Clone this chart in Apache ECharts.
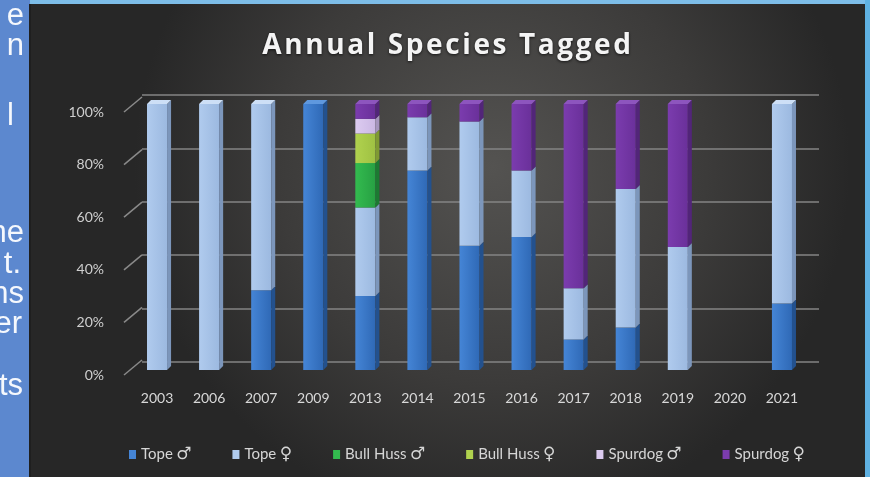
<!DOCTYPE html>
<html>
<head>
<meta charset="utf-8">
<script src="https://cdn.jsdelivr.net/npm/echarts@6/dist/echarts.min.js"></script>
<style>
  html, body { margin: 0; padding: 0; background: #5c88cf; }
  #chart { width: 870px; height: 477px; }
</style>
</head>
<body>
<div id="chart"></div>
<script>
// Share of each species / sex tagged per year (percent of that year's total)
const years = ['2003', '2006', '2007', '2009', '2013', '2014', '2015', '2016', '2017', '2018', '2019', '2020', '2021'];
const topeMale       = [0,   0,   30, 100, 27.8, 75, 46.7, 50, 11.5, 16, 0,    0, 25];
const topeFemale     = [100, 100, 70, 0,   33.3, 20, 46.7, 25, 19.2, 52, 46.2, 0, 75];
const bullHussMale   = [0,   0,   0,  0,   16.7, 0,  0,    0,  0,    0,  0,    0, 0];
const bullHussFemale = [0,   0,   0,  0,   11.1, 0,  0,    0,  0,    0,  0,    0, 0];
const spurdogMale    = [0,   0,   0,  0,   5.5,  0,  0,    0,  0,    0,  0,    0, 0];
const spurdogFemale  = [0,   0,   0,  0,   5.6,  5,  6.6,  25, 69.3, 32, 53.8, 0, 0];
const seriesNames = ['Tope ♂', 'Tope ♀', 'Bull Huss ♂', 'Bull Huss ♀', 'Spurdog ♂', 'Spurdog ♀'];
const percentTicks = [0, 20, 40, 60, 80, 100];
const chartTitle = 'Annual Species Tagged';

const seriesValues = [topeMale, topeFemale, bullHussMale, bullHussFemale, spurdogMale, spurdogFemale];

// Face colours of the 3D columns: front gradient (left, right), side face, top cap
const faceStyles = [
  { front: ['#4585d6', '#2f69b6'], side: '#23518e', cap: '#5f98de' },
  { front: ['#b0cbee', '#9cb9e0'], side: '#7c96bb', cap: '#cddff6' },
  { front: ['#33bb4f', '#27a043'], side: '#1c7a32', cap: '#52c86a' },
  { front: ['#b0d24e', '#9fc143'], side: '#7f9a33', cap: '#c4df73' },
  { front: ['#dccbf0', '#cbb8e4'], side: '#a595bd', cap: '#e8dcf6' },
  { front: ['#7b3cae', '#6a309a'], side: '#522579', cap: '#8d55be' }
];

const DX = 4, DY = 4; // depth offset of the columns

// Build stacked [category, base, top, isTopmost] rows for every series
const stackRows = seriesValues.map(() => []);
years.forEach((y, i) => {
  let base = 0;
  seriesValues.forEach((vals, s) => {
    const v = vals[i];
    const laterSum = seriesValues.slice(s + 1).reduce((acc, arr) => acc + arr[i], 0);
    stackRows[s].push([i, base, base + v, laterSum > 0 ? 0 : 1]);
    base += v;
  });
});

function columnRenderer(style) {
  return function (params, api) {
    const lo = api.value(1), hi = api.value(2);
    if (!(hi > lo)) return null;
    const cat = api.value(0);
    const a = api.coord([cat, lo]);
    const b = api.coord([cat, hi]);
    const w = api.size([1, 0])[0] * 0.385;
    const x0 = a[0] - w / 2, x1 = x0 + w;
    const yLo = a[1], yHi = b[1];
    const children = [
      {
        type: 'rect',
        shape: { x: x0, y: yHi, width: w, height: yLo - yHi },
        style: {
          fill: new echarts.graphic.LinearGradient(0, 0, 1, 0, [
            { offset: 0, color: style.front[0] },
            { offset: 1, color: style.front[1] }
          ])
        }
      },
      {
        type: 'polygon',
        shape: { points: [[x1, yLo], [x1 + DX, yLo - DY], [x1 + DX, yHi - DY], [x1, yHi]] },
        style: { fill: style.side }
      }
    ];
    if (api.value(3)) {
      children.push({
        type: 'polygon',
        shape: { points: [[x0, yHi], [x1, yHi], [x1 + DX, yHi - DY], [x0 + DX, yHi - DY]] },
        style: { fill: style.cap }
      });
    }
    return { type: 'group', children };
  };
}

const chart = echarts.init(document.getElementById('chart'), null, { renderer: 'canvas' });

const columnSeries = seriesNames.map((name, s) => ({
  name,
  type: 'custom',
  xAxisIndex: 2,
  yAxisIndex: 2,
  color: faceStyles[s].front[0],
  renderItem: columnRenderer(faceStyles[s]),
  encode: { x: 0, y: [1, 2] },
  data: stackRows[s],
  z: 3
}));

// Slanted edge ticks of the floor/side wall, from the front labels back to the wall
const edgeTickSeries = {
  type: 'custom',
  xAxisIndex: 1,
  yAxisIndex: 1,
  silent: true,
  renderItem: function (params, api) {
    const p = api.coord([0, api.value(1)]);
    return {
      type: 'line',
      shape: { x1: p[0], y1: p[1], x2: p[0] + 18, y2: p[1] - 15 },
      style: { stroke: '#8a8a8a', lineWidth: 1.5 }
    };
  },
  data: percentTicks.map(v => [0, v]),
  z: 2
};

// Tracked title: every glyph is its own rich token with a little side padding
const trackedTitle = chartTitle.split('').map(ch => '{c|' + ch + '}').join('');

const stripText = { fill: '#f5f8fd', font: '31px "Liberation Sans", Arial, sans-serif', textVerticalAlign: 'middle', textAlign: 'right' };

chart.setOption({
  backgroundColor: '#5c88cf',
  animation: false,
  title: {
    text: trackedTitle,
    left: 256,
    top: 27,
    textStyle: {
      rich: {
        c: {
          color: '#f4f4f4',
          fontFamily: '"Open Sans", sans-serif',
          fontWeight: 'bold',
          fontSize: 28,
          padding: [0, 1.3, 0, 1.3],
          textShadowColor: 'rgba(0,0,0,0.7)',
          textShadowBlur: 3,
          textShadowOffsetY: 1
        }
      }
    }
  },
  legend: {
    data: seriesNames,
    left: 124,
    top: 441,
    itemGap: 41,
    itemWidth: 7,
    itemHeight: 9,
    icon: 'rect',
    formatter: function (name) {
      const i = name.lastIndexOf(' ');
      return '{n|' + name.slice(0, i) + '} {s|' + name.slice(i + 1) + '}';
    },
    textStyle: {
      color: '#d6d6d6',
      rich: {
        n: { fontFamily: 'Lato, sans-serif', fontSize: 15, color: '#d6d6d6' },
        s: { fontFamily: '"DejaVu Sans", sans-serif', fontSize: 17, color: '#d6d6d6' }
      }
    }
  },
  graphic: [
    {
      type: 'rect', z: -100,
      shape: { x: 30, y: 0, width: 840, height: 477 },
      style: {
        fill: new echarts.graphic.RadialGradient(0.55, 0.35, 0.75, [
          { offset: 0, color: '#545351' },
          { offset: 0.6, color: '#3c3b3a' },
          { offset: 1, color: '#272727' }
        ])
      }
    },
    { type: 'rect', z: -99, shape: { x: 30, y: 0, width: 840, height: 4 }, style: { fill: '#7dbde8' } },
    { type: 'rect', z: -99, shape: { x: 865, y: 0, width: 5, height: 477 }, style: { fill: '#5fb1e2' } },
    { type: 'rect', z: -99, shape: { x: 29, y: 4, width: 2, height: 473 }, style: { fill: '#1f1f1f' } },
    { type: 'text', z: -98, x: 24, y: 16, style: Object.assign({ text: 'e' }, stripText) },
    { type: 'text', z: -98, x: 24, y: 46, style: Object.assign({ text: 'n' }, stripText) },
    { type: 'text', z: -98, x: 14, y: 116, style: Object.assign({ text: 'l' }, stripText) },
    { type: 'text', z: -98, x: 24, y: 233, style: Object.assign({ text: 'he' }, stripText) },
    { type: 'text', z: -98, x: 21, y: 264, style: Object.assign({ text: 't.' }, stripText) },
    { type: 'text', z: -98, x: 24, y: 294, style: Object.assign({ text: 'ns' }, stripText) },
    { type: 'text', z: -98, x: 22, y: 324, style: Object.assign({ text: 'er' }, stripText) },
    { type: 'text', z: -98, x: 23, y: 386, style: Object.assign({ text: 'ts' }, stripText) }
  ],
  grid: [
    // back wall with the gridlines
    { left: 142, right: 51, top: 95, bottom: 115 },
    // front edge carrying the percent labels
    { left: 124, right: 51, top: 112, bottom: 102 },
    // columns
    { left: 131, right: 62, top: 104, bottom: 107 }
  ],
  xAxis: [
    { gridIndex: 0, type: 'value', min: 0, max: 1, show: false },
    { gridIndex: 1, type: 'value', min: 0, max: 1, show: false },
    {
      gridIndex: 2, type: 'category', data: years,
      axisLine: { show: false }, axisTick: { show: false },
      axisLabel: { color: '#d8d8d8', fontFamily: 'Lato, sans-serif', fontSize: 14, margin: 21 }
    }
  ],
  yAxis: [
    {
      gridIndex: 0, type: 'value', min: 0, max: 100, interval: 20,
      axisLine: { show: false }, axisTick: { show: false }, axisLabel: { show: false },
      splitLine: { lineStyle: { color: '#858585', width: 1.5 } }
    },
    {
      gridIndex: 1, type: 'value', min: 0, max: 100, interval: 20,
      axisLine: { show: false }, axisTick: { show: false }, splitLine: { show: false },
      axisLabel: { formatter: '{value}%', color: '#cfcfcf', fontFamily: 'Lato, sans-serif', fontSize: 14, margin: 20 }
    },
    {
      gridIndex: 2, type: 'value', min: 0, max: 100, show: false
    }
  ],
  series: [edgeTickSeries].concat(columnSeries)
});
</script>
</body>
</html>
